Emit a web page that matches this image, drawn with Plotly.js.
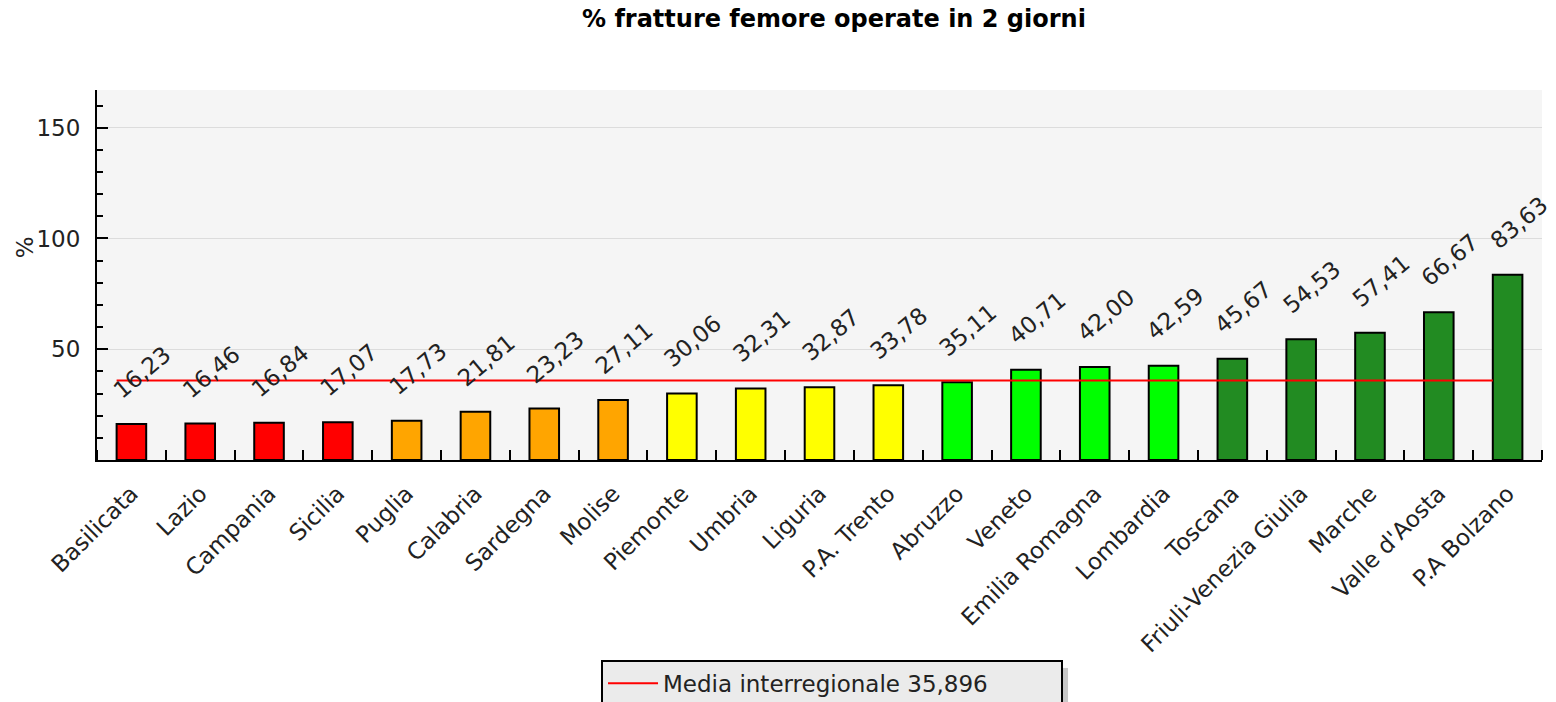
<!DOCTYPE html>
<html>
<head>
<meta charset="utf-8">
<script src="https://cdn.plot.ly/plotly-3.0.1.min.js"></script>
<style>
  html, body { margin: 0; padding: 0; background: #fff; }
  #chart { width: 1556px; height: 702px; }
</style>
</head>
<body>
<div id="chart"></div>
<script>
// Dati: % fratture femore operate in 2 giorni
const regioni = ['Basilicata', 'Lazio', 'Campania', 'Sicilia', 'Puglia', 'Calabria', 'Sardegna',
    'Molise', 'Piemonte', 'Umbria', 'Liguria', 'P.A. Trento', 'Abruzzo', 'Veneto',
    'Emilia Romagna', 'Lombardia', 'Toscana', 'Friuli-Venezia Giulia', 'Marche',
    "Valle d'Aosta", 'P.A Bolzano'];
const valori = [16.23, 16.46, 16.84, 17.07, 17.73, 21.81, 23.23, 27.11, 30.06, 32.31, 32.87,
    33.78, 35.11, 40.71, 42.00, 42.59, 45.67, 54.53, 57.41, 66.67, 83.63];
// fascia di colore per ogni regione (0 = peggiore, 4 = migliore)
const fasce = [0, 0, 0, 0, 1, 1, 1, 1, 2, 2, 2, 2, 3, 3, 3, 3, 4, 4, 4, 4, 4];
const mediaInterregionale = 35.896;
const yTicks = [50, 100, 150];

const palette = ['#ff0000', '#ffa500', '#ffff00', '#00ff00', '#228b22'];
const FONT = 'DejaVu Sans, Verdana, sans-serif';
const FS = 23;
const BAR_W = 0.43;

const fmt = (v, d) => v.toFixed(d).replace('.', ',');
const idx = regioni.map((_, i) => i);

const bars = {
    type: 'bar',
    x: idx,
    y: valori,
    width: BAR_W,
    marker: {
        color: fasce.map(f => palette[f]),
        line: { color: '#000', width: 2 },
    },
    hoverinfo: 'x+y',
    showlegend: false,
};

// linea della media: dal bordo sinistro della prima barra a quello dell'ultima
const media = {
    type: 'scatter',
    mode: 'lines',
    x: [idx[0] - BAR_W / 2, idx[idx.length - 1] - BAR_W / 2],
    y: [mediaInterregionale, mediaInterregionale],
    line: { color: '#ff0000', width: 2 },
    name: 'Media interregionale ' + fmt(mediaInterregionale, 3),
    hoverinfo: 'skip',
};

const etichette = valori.map((v, i) => ({
    x: i,
    y: v,
    xref: 'x',
    yref: 'y',
    text: fmt(v, 2),
    showarrow: false,
    textangle: -40,
    xshift: 11,
    yshift: 52,
    font: { family: FONT, size: FS, color: '#222' },
}));

const layout = {
    width: 1556,
    height: 702,
    paper_bgcolor: '#ffffff',
    plot_bgcolor: '#f5f5f5',
    margin: { l: 97, r: 14, t: 90, b: 242, autoexpand: false },
    font: { family: FONT, size: FS, color: '#222' },
    title: {
        text: '% fratture femore operate in 2 giorni',
        font: { family: FONT, size: 24, color: '#000', weight: 'bold' },
        xref: 'paper',
        x: 0.51,
        xanchor: 'center',
        yref: 'container',
        y: 0.974,
        yanchor: 'middle',
    },
    xaxis: {
        range: [-0.5, regioni.length - 0.5],
        tickmode: 'array',
        tickvals: idx,
        ticktext: regioni,
        tickangle: -45,
        ticks: '',
        ticklabelstandoff: 9,
        showgrid: false,
        zeroline: false,
        showline: true,
        linecolor: '#000',
        linewidth: 2,
        automargin: false,
        minor: {
            tickmode: 'linear',
            tick0: 0.5,
            dtick: 1,
            ticks: 'inside',
            ticklen: 10,
            tickwidth: 2,
            tickcolor: '#000',
            showgrid: false,
        },
        tickfont: { family: FONT, size: FS, color: '#222' },
    },
    yaxis: {
        range: [0, 167],
        tickmode: 'array',
        tickvals: yTicks,
        ticks: 'inside',
        ticklen: 11,
        tickwidth: 2,
        tickcolor: '#000',
        ticklabelstandoff: 10,
        showgrid: true,
        gridcolor: '#dcdcdc',
        gridwidth: 1,
        zeroline: false,
        showline: true,
        linecolor: '#000',
        linewidth: 2,
        automargin: false,
        minor: {
            dtick: 10,
            tick0: 0,
            ticks: 'inside',
            ticklen: 6,
            tickwidth: 2,
            tickcolor: '#000',
            showgrid: false,
        },
        tickfont: { family: FONT, size: FS, color: '#222' },
    },
    legend: {
        orientation: 'h',
        x: 0.3488,
        xanchor: 'left',
        y: -0.54,
        yanchor: 'top',
        bgcolor: '#ebebeb',
        bordercolor: '#000',
        borderwidth: 2,
        itemwidth: 50,
        entrywidth: 393,
        font: { family: FONT, size: FS, color: '#222' },
    },
    annotations: etichette.concat([{
        text: '%',
        xref: 'paper',
        yref: 'paper',
        x: -0.05,
        y: 0.574,
        xanchor: 'center',
        yanchor: 'middle',
        showarrow: false,
        textangle: -90,
        font: { family: FONT, size: FS, color: '#222' },
    }]),
    shapes: [{
        // ombra della legenda
        type: 'rect',
        xref: 'paper',
        yref: 'paper',
        x0: 0.6678,
        x1: 0.672,
        y0: -0.562,
        y1: -0.7,
        fillcolor: '#c8c8c8',
        line: { width: 0 },
    }],
};

Plotly.newPlot('chart', [bars, media], layout, { displayModeBar: false, staticPlot: true });
</script>
</body>
</html>
